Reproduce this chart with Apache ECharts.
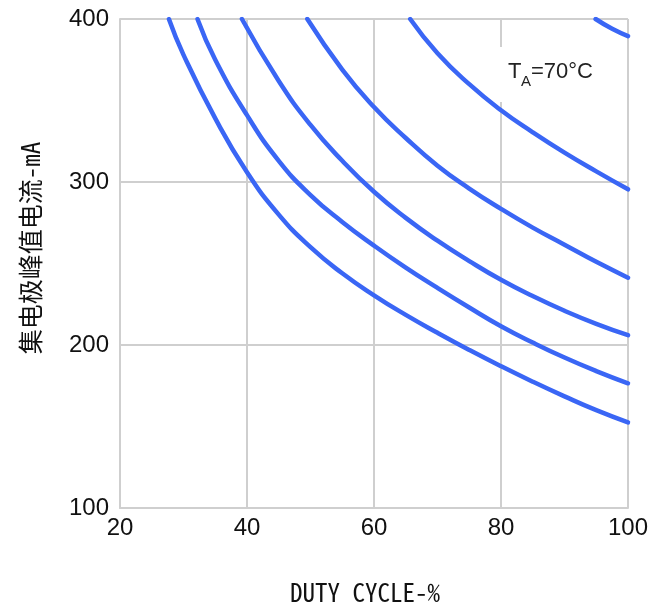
<!DOCTYPE html>
<html>
<head>
<meta charset="utf-8">
<script src="https://cdn.jsdelivr.net/npm/echarts@6/dist/echarts.min.js"></script>
<style>
html,body{margin:0;padding:0;background:#fff;}
#main{width:667px;height:607px;}
</style>
</head>
<body>
<div id="main"></div>
<script>
// Tick values
var xTicks = [20, 40, 60, 80, 100];
var yTicks = [100, 200, 300, 400];

// Curves: [duty cycle %, peak collector current mA]
var curve1 = [[94.9,400],[97.5,394],[100,389.5]];
var curve2 = [[65.7,400],[70,379],[75,360],[80,344],[85,330.5],[90,318],[95,306.5],[100,295.5]];
var curve3 = [[49.5,400],[55,369],[60,346],[65,327],[70,310],[75,296],[80,283.5],[85,272],[90,261.5],[95,251],[100,241.3]];
var curve4 = [[39.2,400],[45,362],[50,335],[55,313],[60,294],[65,278],[70,264],[75,251.5],[80,240],[85,230],[90,221],[95,213],[100,206]];
var curve5 = [[32.2,400],[35,375],[40,341],[45,313],[50,292],[55,275.5],[60,261],[65,247.5],[70,235],[75,223],[80,211.5],[85,201.5],[90,192.3],[95,184],[100,176.5]];
var curve6 = [[27.7,400],[30,378],[35,339],[40,306],[45,280],[50,260],[55,244],[60,230.5],[65,218.5],[70,207.5],[75,197],[80,187],[85,177.5],[90,168.5],[95,160],[100,152.5]];

var xName = 'DUTY CYCLE-%';
var yName = '集电极峰值电流-mA';
var curves = [curve1, curve2, curve3, curve4, curve5, curve6];

var chart = echarts.init(document.getElementById('main'), null, {renderer:'canvas'});
var gridColor = '#cfcfcf';
var lineColor = '#3a66f5';
var labelFont = '"Liberation Sans", Arial, sans-serif';
var nameFont = '"Noto Sans Mono CJK SC", "Noto Sans CJK SC", "Liberation Mono", monospace';

var option = {
  backgroundColor: '#fff',
  animation: false,
  grid: {left: 120, right: 39, top: 19, bottom: 99, containLabel: false},
  xAxis: {
    type: 'value', min: xTicks[0], max: xTicks[xTicks.length-1], interval: 20,
    axisLine: {show: true, lineStyle: {color: gridColor, width: 2}},
    axisTick: {show: false},
    splitLine: {show: true, lineStyle: {color: gridColor, width: 2}},
    axisLabel: {fontSize: 24, color: '#111', fontFamily: labelFont, margin: 8}
  },
  yAxis: {
    type: 'value', min: yTicks[0], max: yTicks[yTicks.length-1], interval: 100,
    axisLine: {show: true, lineStyle: {color: gridColor, width: 2}},
    axisTick: {show: false},
    splitLine: {show: true, lineStyle: {color: gridColor, width: 2}},
    axisLabel: {fontSize: 24, color: '#111', fontFamily: labelFont, margin: 11}
  },
  series: curves.map(function (c) {
    return {
      type: 'line', data: c, smooth: 0.5, showSymbol: false, symbol: 'none',
      clip: true, z: 3,
      lineStyle: {color: lineColor, width: 4.5, cap: 'round', join: 'round'}
    };
  }),
  graphic: [
    {
      type: 'rect', z: 1, silent: true,
      shape: {x: 498, y: 47, width: 100, height: 55},
      style: {fill: '#fff'}
    },
    {
      type: 'text', z: 2, silent: true, x: 508, y: 83,
      style: {text: 'T', font: '22px ' + labelFont, fill: '#222', verticalAlign: 'bottom'}
    },
    {
      type: 'text', z: 2, silent: true, x: 521, y: 89,
      style: {text: 'A', font: '15px ' + labelFont, fill: '#222', verticalAlign: 'bottom'}
    },
    {
      type: 'text', z: 2, silent: true, x: 531, y: 83,
      style: {text: '=70°C', font: '22px ' + labelFont, fill: '#222', verticalAlign: 'bottom'}
    },
    {
      type: 'text', silent: true, x: 30, y: 248, rotation: Math.PI / 2,
      style: {text: yName, font: '25px ' + nameFont, fill: '#111', align: 'center', verticalAlign: 'middle'}
    },
    {
      type: 'text', silent: true, x: 365, y: 592,
      style: {text: xName, font: '25px ' + nameFont, fill: '#111', align: 'center', verticalAlign: 'middle'}
    }
  ]
};
chart.setOption(option);
</script>
</body>
</html>
